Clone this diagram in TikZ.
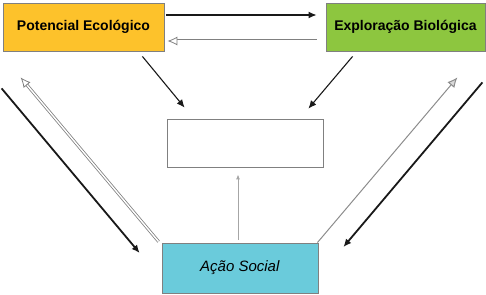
\documentclass[tikz,border=0pt]{standalone}
\usepackage{fontspec}
\setsansfont{Liberation Sans}
\usetikzlibrary{arrows.meta}
\definecolor{laranja}{HTML}{FDC22B}
\definecolor{verde}{HTML}{8DC63F}
\definecolor{ciano}{HTML}{6ACBDB}
\tikzset{
	caixa/.style={draw=black!50, line width=0.8pt, minimum height=48pt, inner sep=0pt,
		font=\sffamily\fontsize{14}{16}\selectfont},
	seta preta/.style={draw=black!90, line width=1.4pt, -{Latex[length=8pt, width=7pt]}},
	seta cinza/.style={draw=black!50, double=white, double distance=1.4pt, line width=0.8pt,
		-{Latex[open, length=10pt, width=9pt, fill=white]}},
	seta clara/.style={draw=black!45, line width=1pt, -{Latex[length=10pt, width=9pt, fill=black!15]}}
}
\begin{document}
\begin{tikzpicture}[x=1pt, y=-1pt]
	\useasboundingbox (0,0) rectangle (486,294);
	\node[caixa, fill=laranja, minimum width=161pt] (potencial) at (83.5,27) {\textbf{Potencial Ecológico}};
	\node[caixa, fill=verde, minimum width=159pt] (exploracao) at (405.5,27) {\textbf{Exploração Biológica}};
	\node[caixa, fill=white, minimum width=156pt] (centro) at (245,143) {};
	\node[caixa, fill=ciano, minimum width=156pt, minimum height=50pt] (acao) at (240,268) {\fontsize{15}{17}\selectfont\textit{Ação Social}};
	\draw[seta preta] ([xshift=2pt, yshift=12pt]potencial.east) -- ([xshift=-9pt, yshift=12pt]exploracao.west);
	\draw[seta cinza] ([xshift=-9pt, yshift=-14pt]exploracao.west) -- ([xshift=3pt, yshift=-14pt]potencial.east);
	\draw[seta preta, line width=1.1pt] ([xshift=-22pt, yshift=-5pt]potencial.south east) -- ([xshift=18pt, yshift=11pt]centro.north west);
	\draw[seta preta, line width=1.1pt] ([xshift=27pt, yshift=-5pt]exploracao.south west) -- ([xshift=-15pt, yshift=10pt]centro.north east);
	\draw[seta preta, line width=1.8pt] ([xshift=-1pt, yshift=-37pt]potencial.south west) -- ([xshift=-22pt, yshift=15pt]acao.west);
	\draw[seta cinza] ([xshift=-3pt, yshift=1pt]acao.north west) -- ([xshift=18pt, yshift=-26pt]potencial.south west);
	\draw[seta clara] ([xshift=-1pt]acao.north east) -- ([xshift=-28pt, yshift=-26pt]exploracao.south east);
	\draw[seta preta, line width=1.8pt] ([xshift=-3pt, yshift=-31pt]exploracao.south east) -- ([xshift=25pt, yshift=21pt]acao.east);
	\draw[draw=black!35, line width=1pt, -{Latex[length=5pt, width=4pt, fill=black]}] ([xshift=-2pt, yshift=3pt]acao.north) -- ([xshift=-7pt, yshift=-7pt]centro.south);
\end{tikzpicture}
\end{document}
